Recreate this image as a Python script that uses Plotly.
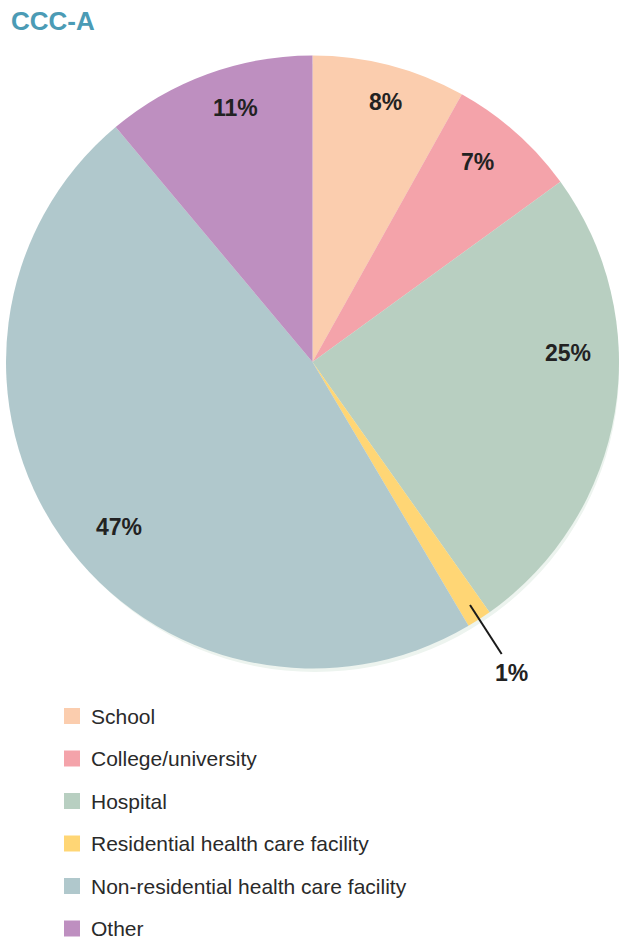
import math
import plotly.graph_objects as go

W, H = 619, 939
OFF = 0  # body margin removed via post_script

title = "CCC-A"
categories = ["School", "College/university", "Hospital",
              "Residential health care facility",
              "Non-residential health care facility", "Other"]
values = [8.1, 6.9, 25.2, 1.3, 47.4, 11.1]
value_labels = ["8%", "7%", "25%", "1%", "47%", "11%"]
colors = ["#FBCDAE", "#F4A3AA", "#B8CFC1", "#FFD675", "#B0C8CC", "#BE8FC0"]

# label placement style (angle tweak in degrees, radius as fraction of R)
label_angle_shift = [1.1, -2.1, -11.4, 0.3, -5.3, 3.1]
label_radius = [0.88, 0.845, 0.834, 1.205, 0.83, 0.865]

# pie geometry (target pixels)
px0, px1 = 6, 619
py0, py1 = 55, 669
R = min(px1 - px0, py1 - py0) / 2
cx, cy = (px0 + px1) / 2, (py0 + py1) / 2

def PX(x):
    return (x - OFF) / W

def PY(y):
    return 1 - (y - OFF) / H

def dom(x0, x1, y0, y1):
    return dict(x=[max(0, PX(x0)), min(1, PX(x1))], y=[PY(y1), PY(y0)])

def to_paper(r, theta_deg):
    t = math.radians(theta_deg)
    return PX(cx + r * math.sin(t)), PY(cy - r * math.cos(t))

fig = go.Figure()

# soft shadow
fig.add_trace(go.Pie(values=[1], labels=["shadow"], marker=dict(colors=["#EDF4EF"]),
                     domain=dom(px0 + 5, px1 + 5, py0 + 6, py1 + 6), textinfo="none",
                     hoverinfo="skip", showlegend=False, sort=False))

fig.add_trace(go.Pie(values=values, labels=categories, marker=dict(colors=colors, line=dict(width=0)),
                     domain=dom(px0, px1, py0, py1), textinfo="none", hoverinfo="skip",
                     sort=False, direction="clockwise", rotation=0, showlegend=False))

annotations = []
shapes = []
total = sum(values)
cum = 0
lab_font = dict(size=23, color="#222222", family="Liberation Sans")
for v, lab, da, rf in zip(values, value_labels, label_angle_shift, label_radius):
    mid = (cum + v / 2) / total * 360
    cum += v
    if v / total < 0.03:
        x0, y0 = to_paper(0.945 * R, mid)
        x1, y1 = to_paper(1.135 * R, mid)
        shapes.append(dict(type="line", xref="paper", yref="paper", x0=x0, y0=y0, x1=x1, y1=y1,
                           line=dict(color="#1a1a1a", width=2)))
    xt, yt = to_paper(rf * R, mid + da)
    annotations.append(dict(x=xt, y=yt, xref="paper", yref="paper", text="<b>%s</b>" % lab,
                            xanchor="center", yanchor="middle",
                            showarrow=False, font=lab_font))

# custom legend
leg_y0, leg_gap = 716, 42.5
for i, (c, lab) in enumerate(zip(colors, categories)):
    yc = leg_y0 + i * leg_gap
    shapes.append(dict(type="rect", xref="paper", yref="paper",
                       x0=PX(64), x1=PX(80), y0=PY(yc + 8), y1=PY(yc - 8),
                       fillcolor=c, line=dict(width=0)))
    annotations.append(dict(x=PX(89), y=PY(yc), xref="paper", yref="paper", text=lab,
                            xanchor="left", yanchor="middle", showarrow=False,
                            font=dict(size=21, color="#2a2a2a", family="Liberation Sans")))

annotations.append(dict(x=PX(9), y=PY(21), xref="paper", yref="paper",
                        text="<b>%s</b>" % title, xanchor="left", yanchor="middle", showarrow=False,
                        font=dict(size=26, color="#4B9BB5", family="Liberation Sans")))

fig.update_layout(width=W, height=H, margin=dict(l=0, r=0, t=0, b=0),
                  paper_bgcolor="white", plot_bgcolor="white",
                  annotations=annotations, shapes=shapes, showlegend=False)

fig.write_html("out.html", config={"displayModeBar": False},
               post_script="document.body.style.margin='0';document.body.style.overflow='hidden';")
